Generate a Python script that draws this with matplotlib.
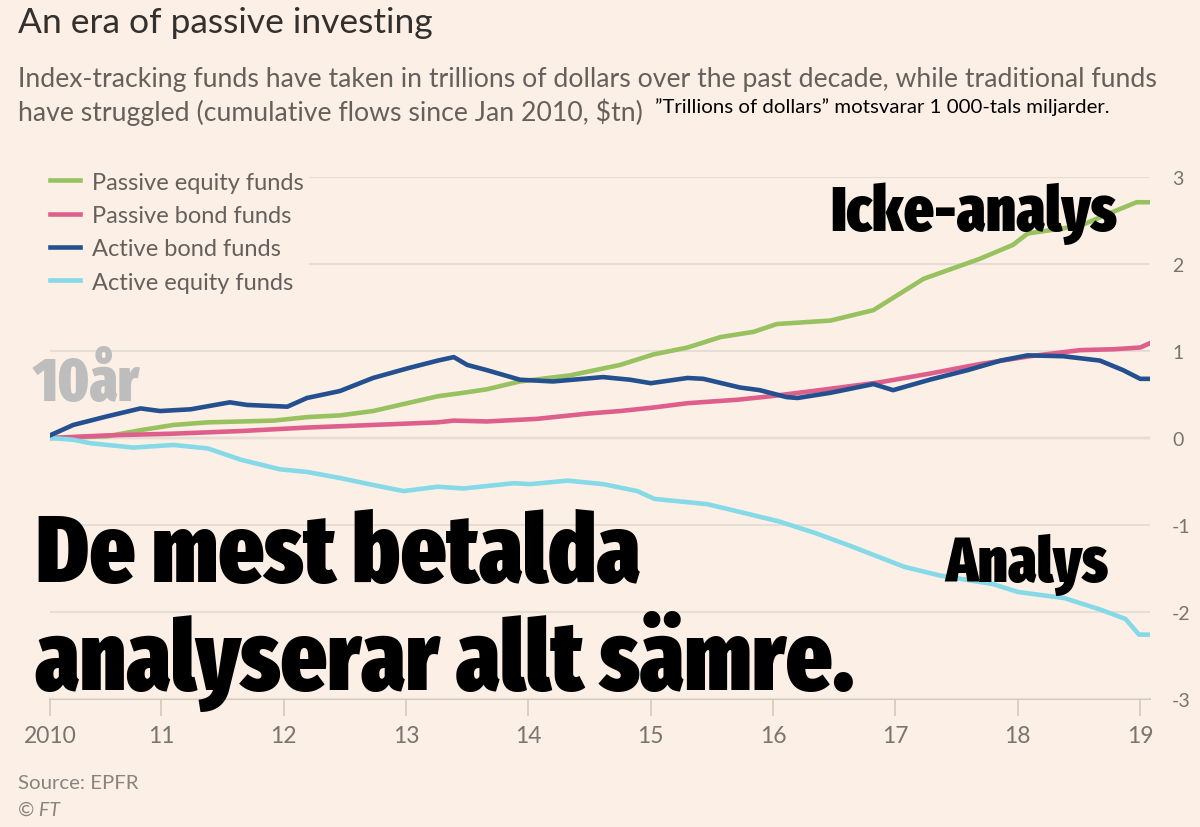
import os
import matplotlib
matplotlib.use("Agg")
import matplotlib.pyplot as plt
from matplotlib import font_manager as fm
from matplotlib.ticker import FixedLocator

# ---------------- data (cumulative flows since Jan 2010, $tn) ----------------
active_bond_x = [2010.09, 2010.28, 2010.56, 2010.83, 2010.99, 2011.24, 2011.56, 2011.70,
                 2012.03, 2012.19, 2012.46, 2012.73, 2013.01, 2013.26, 2013.39, 2013.50,
                 2013.66, 2013.93, 2014.20, 2014.61, 2014.83, 2015.00, 2015.30, 2015.43,
                 2015.73, 2015.89, 2016.11, 2016.20, 2016.47, 2016.82, 2016.98, 2017.28,
                 2017.59, 2017.86, 2018.08, 2018.37, 2018.67, 2018.86, 2019.00, 2019.08]
active_bond_y = [0.03, 0.15, 0.25, 0.34, 0.31, 0.33, 0.41, 0.38,
                 0.36, 0.46, 0.54, 0.69, 0.80, 0.89, 0.93, 0.84,
                 0.78, 0.67, 0.65, 0.70, 0.67, 0.63, 0.69, 0.68,
                 0.58, 0.55, 0.47, 0.46, 0.52, 0.62, 0.55, 0.67,
                 0.78, 0.89, 0.95, 0.94, 0.89, 0.78, 0.68, 0.68]

passive_equity_x = [2010.09, 2010.56, 2010.83, 2011.10, 2011.38, 2011.92, 2012.19, 2012.46,
                    2012.73, 2013.01, 2013.26, 2013.47, 2013.66, 2013.93, 2014.34, 2014.75,
                    2015.02, 2015.30, 2015.57, 2015.84, 2016.03, 2016.47, 2016.82, 2017.23,
                    2017.69, 2017.96, 2018.08, 2018.51, 2018.78, 2018.97, 2019.08]
passive_equity_y = [0.00, 0.02, 0.09, 0.15, 0.18, 0.20, 0.24, 0.26,
                    0.31, 0.40, 0.48, 0.52, 0.56, 0.65, 0.72, 0.84,
                    0.96, 1.04, 1.16, 1.22, 1.31, 1.35, 1.47, 1.83,
                    2.06, 2.22, 2.35, 2.44, 2.60, 2.71, 2.71]

passive_bond_x = [2010.09, 2010.56, 2011.10, 2011.65, 2012.19, 2012.73, 2013.26, 2013.39,
                  2013.66, 2014.07, 2014.48, 2014.75, 2015.02, 2015.30, 2015.71, 2015.98,
                  2016.38, 2016.87, 2017.28, 2017.69, 2018.10, 2018.51, 2018.78, 2019.00, 2019.08]
passive_bond_y = [0.00, 0.03, 0.05, 0.08, 0.12, 0.15, 0.18, 0.20,
                  0.19, 0.22, 0.28, 0.31, 0.35, 0.40, 0.44, 0.48,
                  0.55, 0.64, 0.74, 0.85, 0.94, 1.01, 1.02, 1.04, 1.09]

active_equity_x = [2010.09, 2010.28, 2010.42, 2010.77, 2011.10, 2011.38, 2011.65, 2011.97,
                   2012.19, 2012.46, 2012.73, 2012.98, 2013.26, 2013.47, 2013.88, 2014.02,
                   2014.32, 2014.61, 2014.89, 2015.03, 2015.46, 2015.70, 2016.05, 2016.34,
                   2016.63, 2017.07, 2017.36, 2017.80, 2018.00, 2018.38, 2018.67, 2018.88,
                   2018.99, 2019.08]
active_equity_y = [0.00, -0.02, -0.06, -0.11, -0.08, -0.12, -0.25, -0.36,
                   -0.39, -0.46, -0.54, -0.61, -0.56, -0.58, -0.52, -0.53,
                   -0.49, -0.53, -0.61, -0.70, -0.76, -0.84, -0.96, -1.09,
                   -1.24, -1.48, -1.58, -1.68, -1.77, -1.84, -1.97, -2.08,
                   -2.26, -2.26]

series_labels = ["Passive equity funds", "Passive bond funds",
                 "Active bond funds", "Active equity funds"]
x_tick_values = [2010.09, 2011, 2012, 2013, 2014, 2015, 2016, 2017, 2018, 2019]
x_tick_labels = ["2010", "11", "12", "13", "14", "15", "16", "17", "18", "19"]
y_tick_values = [-3, -2, -1, 0, 1, 2, 3]
y_tick_labels = ["-3", "-2", "-1", "0", "1", "2", "3"]

title = "An era of passive investing"
subtitle1 = ("Index-tracking funds have taken in trillions of dollars over the past decade, "
             "while traditional funds")
subtitle2 = "have struggled (cumulative flows since Jan 2010, $tn)"
note = "\u201dTrillions of dollars\u201d motsvarar 1 000-tals miljarder."
source = "Source: EPFR"
copyright_ = "\u00a9 FT"

# ---------------- style ----------------
BG = "#FCF0E6"
GREY_TXT = "#66605C"
TICK_TXT = "#7A736E"
GRID = "#E6DDD4"
ZERO = "#D2C9C1"
C_PEQ = "#98C160"
C_PBD = "#DE5F8C"
C_ABD = "#24508F"
C_AEQ = "#86D9E6"

plt.rcParams["font.family"] = ["Lato", "DejaVu Sans"]
plt.rcParams["axes.unicode_minus"] = False


def pick_heavy_font():
    """Find the most condensed, heaviest upright font installed (Impact-like look)."""
    best, best_score = None, -1
    for f in fm.fontManager.ttflist:
        nm = (f.name + " " + os.path.basename(f.fname)).lower().replace(" ", "").replace("-", "")
        if "italic" in nm or "oblique" in nm or f.style != "normal":
            continue
        st = str(f.stretch).lower()
        if "extracondensed" in nm or "ultracondensed" in nm or st in ("extra-condensed", "ultra-condensed"):
            cond = 3
        elif "semicondensed" in nm or st == "semi-condensed":
            cond = 1
        elif "condensed" in nm or "narrow" in nm or st == "condensed":
            cond = 2
        else:
            cond = 0
        w = f.weight
        if isinstance(w, str):
            w = fm.weight_dict.get(w, 400)
        if w < 600:
            continue
        score = cond * 1000 + w
        if score > best_score:
            best, best_score = f, score
    if best is None:
        return fm.FontProperties(family="DejaVu Sans", weight="bold")
    return fm.FontProperties(fname=best.fname)


HEAVY = pick_heavy_font()

W, H = 1200, 828
fig = plt.figure(figsize=(W / 100, H / 100), dpi=100, facecolor=BG)


def fx(px):
    return px / W


def fy(py):
    return 1 - py / H


ax = fig.add_axes([fx(50), fy(700), fx(1100), (700 - 178) / H])
ax.set_facecolor(BG)

LW = 3.3
ax.plot(passive_equity_x, passive_equity_y, color=C_PEQ, lw=LW, label=series_labels[0], zorder=3)
ax.plot(passive_bond_x, passive_bond_y, color=C_PBD, lw=LW, label=series_labels[1], zorder=3)
ax.plot(active_bond_x, active_bond_y, color=C_ABD, lw=LW, label=series_labels[2], zorder=4)
ax.plot(active_equity_x, active_equity_y, color=C_AEQ, lw=LW, label=series_labels[3], zorder=3)

ax.set_xlim(2010.09, 2019.08)
ax.set_ylim(-3, 3)

for s in ax.spines.values():
    s.set_visible(False)

ax.yaxis.set_major_locator(FixedLocator(y_tick_values))
ax.set_yticklabels(y_tick_labels)
ax.yaxis.tick_right()
ax.tick_params(axis="y", length=0, pad=16, labelsize=14, labelcolor=TICK_TXT)
ax.grid(axis="y", color=GRID, lw=1.5, zorder=0)
ax.axhline(0, color=ZERO, lw=1.7, zorder=1)
ax.axhline(-3, color=ZERO, lw=1.5, zorder=1, clip_on=False)

ax.xaxis.set_major_locator(FixedLocator(x_tick_values))
ax.set_xticklabels(x_tick_labels)
ax.tick_params(axis="x", length=12.5, width=1.1, color="#CFC6BE", pad=6,
               labelsize=16.5, labelcolor=TICK_TXT, direction="out")

leg = ax.legend(loc="upper left", bbox_to_anchor=(fx(45), fy(168)),
                bbox_transform=fig.transFigure, frameon=True, facecolor=BG,
                edgecolor="none", framealpha=1, fontsize=17, handlelength=1.3,
                handletextpad=0.5, labelspacing=0.52, borderpad=0.2,
                borderaxespad=0)
for t in leg.get_texts():
    t.set_color(GREY_TXT)
leg.set_zorder(5)

# ---------------- header / footer text ----------------
texts_to_fit = []
t_title = fig.text(fx(18), fy(23), title, fontsize=24, color="#33302E", va="center", ha="left")
texts_to_fit.append((t_title, 415))
t_sub1 = fig.text(fx(18), fy(79), subtitle1, fontsize=18, color=GREY_TXT, va="center", ha="left")
texts_to_fit.append((t_sub1, 1132))
t_sub2 = fig.text(fx(18), fy(112), subtitle2, fontsize=18, color=GREY_TXT, va="center", ha="left")
t_note = fig.text(fx(655), fy(107), note, fontsize=13, color="black", va="center", ha="left",
                  family=["Lato", "DejaVu Sans"])
texts_to_fit.append((t_note, 454))
t_src = fig.text(fx(18), fy(784), source, fontsize=14, color="#8A837E", va="center", ha="left")
texts_to_fit.append((t_src, 121))
fig.text(fx(18), fy(810), copyright_, fontsize=14, color="#8A837E", va="center", ha="left",
         style="italic")

# ---------------- overlaid annotations (condensed heavy type) ----------------
t_icke = fig.text(fx(830), fy(231), "Icke-analys", fontsize=50, color="black",
                  va="baseline", ha="left", fontproperties=HEAVY, zorder=10)
texts_to_fit.append((t_icke, 287))
t_10 = fig.text(fx(33), fy(401), "10år", fontsize=50, color="#BDBDBD",
                va="baseline", ha="left", fontproperties=HEAVY, zorder=10)
texts_to_fit.append((t_10, 107))
t_de = fig.text(fx(36), fy(582), "De mest betalda", fontsize=80, color="black",
                va="baseline", ha="left", fontproperties=HEAVY, zorder=10)
texts_to_fit.append((t_de, 604))
t_an = fig.text(fx(35), fy(690), "analyserar allt sämre.", fontsize=80, color="black",
                va="baseline", ha="left", fontproperties=HEAVY, zorder=10)
texts_to_fit.append((t_an, 820))
t_analys = fig.text(fx(945), fy(582), "Analys", fontsize=50, color="black",
                    va="baseline", ha="left", fontproperties=HEAVY, zorder=10)
texts_to_fit.append((t_analys, 163))

# scale each text so its width matches the reference layout
fig.canvas.draw()
r = fig.canvas.get_renderer()
for t, target in texts_to_fit:
    w = t.get_window_extent(r).width
    if w > 0:
        t.set_fontsize(t.get_fontsize() * target / w)
t_sub2.set_fontsize(t_sub1.get_fontsize())

fig.savefig("out.png", dpi=100, facecolor=BG)
